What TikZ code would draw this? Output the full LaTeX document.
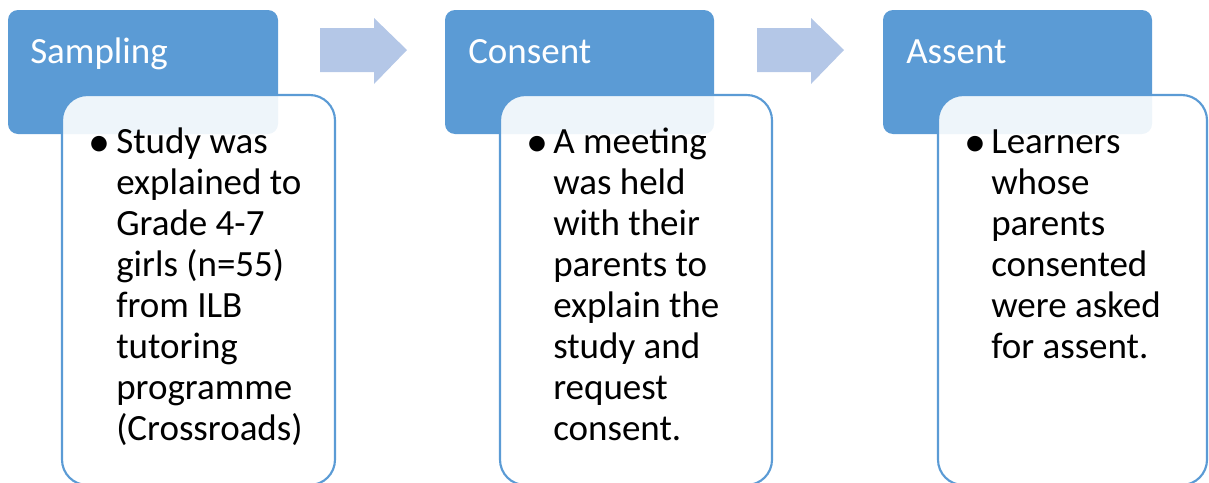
\documentclass[tikz,border=0pt]{standalone}
\usepackage{fontspec}
\setmainfont{Carlito}
\usepackage{tikz}
\usetikzlibrary{backgrounds}

\definecolor{headblue}{HTML}{5B9BD5}
\definecolor{arrowblue}{HTML}{B4C7E7}

\newcommand{\bodylines}[1]{\parbox[t]{200pt}{\raggedright #1}}

\tikzset{
  headbox/.style={fill=headblue, draw=none, rounded corners=7.5pt},
  bodybox/.style={fill=white, fill opacity=0.9, draw=headblue, line width=1.6pt, rounded corners=19pt},
  steparrow/.style={fill=arrowblue, draw=none},
  headtext/.style={anchor=base west, inner sep=0pt, text=white, font=\fontsize{27.75}{30.75}\selectfont},
  bodytext/.style={anchor=base west, inner sep=0pt, font=\fontsize{27.75}{30.75}\selectfont},
  bullettext/.style={anchor=center, inner sep=0pt, font=\fontsize{33}{36}\selectfont}
}

\begin{document}
\begin{tikzpicture}[x=0.75pt,y=0.75pt,yscale=-1,xscale=1]
\useasboundingbox (0,0) rectangle (1209,482);

%Shape: header boxes
\draw [headbox] (8,10) rectangle (278,134);
\draw [headbox] (445,10) rectangle (714,134);
\draw [headbox] (883,10) rectangle (1152,134);

%Shape: arrows between the steps
\fill [steparrow] (320,28) -- (374,28) -- (374,18) -- (407,50) -- (374,84) -- (374,72) -- (320,72) -- cycle ;
\fill [steparrow] (757,28) -- (811,28) -- (811,18) -- (844,50) -- (811,84) -- (811,72) -- (757,72) -- cycle ;

%Shape: body boxes
\draw [bodybox] (62,95) rectangle (335,485);
\draw [bodybox] (500,95) rectangle (772,485);
\draw [bodybox] (938,95) rectangle (1207,485);

% Text Node
\node [headtext] (sampling) at (30,63) {Sampling};
% Text Node
\node [headtext] (consent) at (468,63) {Consent};
% Text Node
\node [headtext] (assent) at (906,63) {Assent};

% Text Node
\node [bullettext] (samplingdot) at (99,146) {\textbullet};
\node [bodytext] (samplingtext) at (116,153) {\bodylines{Study was\\explained to\\Grade 4-7\\girls (n=55)\\from ILB\\tutoring\\programme\\(Crossroads)}};
% Text Node
\node [bullettext] (consentdot) at (537,146) {\textbullet};
\node [bodytext] (consenttext) at (553,153) {\bodylines{A meeting\\was held\\with their\\parents to\\explain the\\study and\\request\\consent.}};
% Text Node
\node [bullettext] (assentdot) at (975,146) {\textbullet};
\node [bodytext] (assenttext) at (991,153) {\bodylines{Learners\\whose\\parents\\consented\\were asked\\for assent.}};

\end{tikzpicture}
\end{document}
